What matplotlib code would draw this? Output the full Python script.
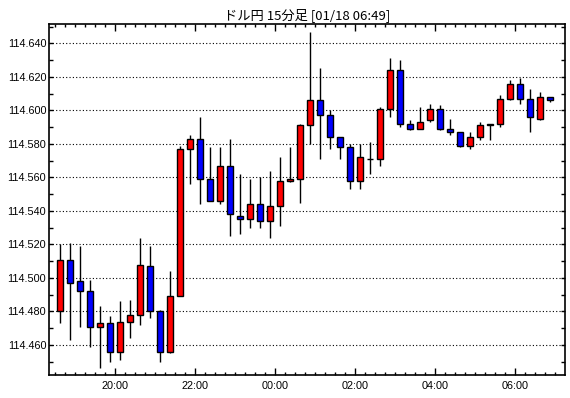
import matplotlib
matplotlib.use("Agg")
import matplotlib.pyplot as plt
import numpy as np

title = "ドル円 15分足 [01/18 06:49]"
start_hour = 18.5      # first candle 18:30
step_hour = 0.25       # 15 minutes

opens = [114.480, 114.511, 114.498, 114.492, 114.471, 114.473, 114.456, 114.474, 114.478, 114.507,
         114.480, 114.456, 114.489, 114.577, 114.583, 114.559, 114.546, 114.567, 114.537, 114.535,
         114.544, 114.534, 114.543, 114.558, 114.559, 114.591, 114.606, 114.597, 114.584, 114.578,
         114.558, 114.571, 114.571, 114.601, 114.624, 114.592, 114.589, 114.594, 114.601, 114.589,
         114.587, 114.579, 114.584, 114.591, 114.592, 114.607, 114.616, 114.607, 114.595, 114.608]
closes = [114.511, 114.497, 114.492, 114.471, 114.473, 114.456, 114.474, 114.478, 114.508, 114.480,
          114.456, 114.489, 114.577, 114.583, 114.559, 114.546, 114.567, 114.538, 114.535, 114.544,
          114.534, 114.543, 114.558, 114.559, 114.591, 114.606, 114.597, 114.584, 114.578, 114.558,
          114.572, 114.571, 114.601, 114.624, 114.592, 114.589, 114.593, 114.601, 114.589, 114.587,
          114.579, 114.584, 114.591, 114.592, 114.607, 114.616, 114.607, 114.596, 114.608, 114.606]
highs = [114.520, 114.521, 114.519, 114.499, 114.483, 114.477, 114.486, 114.487, 114.524, 114.519,
         114.481, 114.504, 114.579, 114.585, 114.596, 114.578, 114.578, 114.583, 114.562, 114.559,
         114.560, 114.564, 114.572, 114.578, 114.592, 114.647, 114.625, 114.600, 114.584, 114.580,
         114.580, 114.581, 114.602, 114.631, 114.630, 114.594, 114.602, 114.604, 114.603, 114.595,
         114.587, 114.587, 114.593, 114.592, 114.609, 114.618, 114.619, 114.613, 114.611, 114.608]
lows = [114.473, 114.463, 114.471, 114.459, 114.446, 114.450, 114.451, 114.464, 114.472, 114.476,
        114.450, 114.455, 114.489, 114.556, 114.544, 114.546, 114.544, 114.525, 114.526, 114.530,
        114.530, 114.524, 114.531, 114.557, 114.545, 114.580, 114.571, 114.577, 114.571, 114.553,
        114.553, 114.562, 114.567, 114.596, 114.590, 114.588, 114.589, 114.593, 114.588, 114.585,
        114.578, 114.577, 114.582, 114.582, 114.590, 114.606, 114.604, 114.587, 114.594, 114.605]

xtick_hours = [20, 22, 24, 26, 28, 30]
xtick_labels = ["20:00", "22:00", "00:00", "02:00", "04:00", "06:00"]
ytick_values = [114.46, 114.48, 114.50, 114.52, 114.54, 114.56, 114.58, 114.60, 114.62, 114.64]

n = len(opens)
x = start_hour + step_hour * np.arange(n) + step_hour / 2

W, H = 570, 398
fig = plt.figure(figsize=(W / 100, H / 100), dpi=100)
L, R, T, B = 49, 565, 24, 375
ax = fig.add_axes([L / W, 1 - B / H, (R - L) / W, (B - T) / H])

# wicks
ax.vlines(x, lows, highs, color="black", linewidth=1.0, zorder=2)
# bodies
o = np.array(opens); c = np.array(closes)
colors = ["#ff0000" if cc >= oo else "#0000ff" for oo, cc in zip(o, c)]
ax.bar(x, np.abs(c - o), bottom=np.minimum(o, c), width=0.15, color=colors,
       edgecolor="black", linewidth=1.0, zorder=3)

ax.set_xlim(18.3425, 31.2425)
ax.set_ylim(114.4421, 114.6515)

ax.set_yticks(ytick_values)
ax.set_yticklabels([f"{v:.3f}" for v in ytick_values])
ax.set_yticks(np.arange(114.45, 114.651, 0.02), minor=True)
ax.set_xticks(xtick_hours)
ax.set_xticklabels(xtick_labels)
ax.set_xticks(np.arange(18.5, 31.01, 0.25), minor=True)

ax.grid(axis="y", which="major", color="black", linestyle=(0, (1, 2)), linewidth=0.8)
ax.set_axisbelow(True)

for lab in ax.get_xticklabels() + ax.get_yticklabels():
    lab.set_family(["Liberation Sans", "DejaVu Sans"])
    lab.set_fontsize(7.8)

ax.tick_params(axis="both", which="both", direction="in", top=True, right=True, colors="black")
ax.tick_params(axis="x", which="major", length=5, width=1, pad=4)
ax.tick_params(axis="x", which="minor", length=2.5, width=1)
ax.tick_params(axis="y", which="major", length=3, width=1, pad=2)
ax.tick_params(axis="y", which="minor", length=3, width=1)

for s in ax.spines.values():
    s.set_linewidth(1.2)
    s.set_color("black")

fig.text((L + R) / 2 / W, 1 - 15 / H, title, ha="center", va="center",
         fontsize=9.5, family=["Noto Sans CJK JP", "DejaVu Sans"])

fig.savefig("out.png", dpi=100)
